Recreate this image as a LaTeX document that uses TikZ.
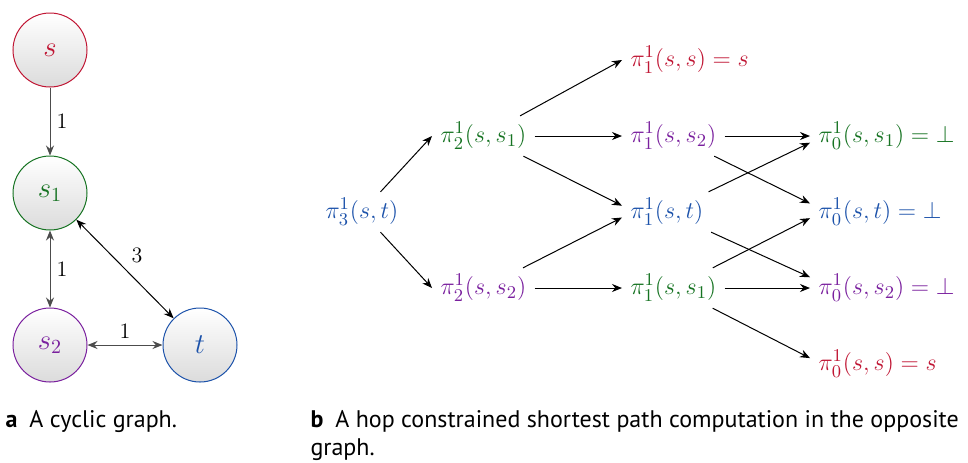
\documentclass[tikz,border=0pt]{standalone}
\usepackage{fontspec}
\setsansfont{PT Sans}
\usepackage{amsmath,amssymb}
\usetikzlibrary{arrows.meta,positioning}
\definecolor{cred}{RGB}{192,22,52}
\definecolor{cgreen}{RGB}{22,115,34}
\definecolor{cpurple}{RGB}{122,32,158}
\definecolor{cblue}{RGB}{28,82,170}
\tikzset{
  vert/.style={circle, minimum size=37pt, inner sep=0pt, line width=0.5pt, top color=white, bottom color=black!14, font=\fontsize{14}{17}\selectfont},
  wt/.style={font=\fontsize{11}{13}\selectfont, inner sep=3pt},
  hop/.style={anchor=west, inner xsep=4pt, inner ysep=3pt, font=\fontsize{13}{16}\selectfont},
  captext/.style={anchor=north west, inner sep=0pt, font=\sffamily\fontsize{12}{14}\selectfont, align=left},
}
\begin{document}
\begin{tikzpicture}[x=0.5pt, y=-0.5pt, >={Stealth[length=5pt,width=4pt]}, line width=0.5pt]
\useasboundingbox (0,0) rectangle (968,462);
% (a) the cyclic graph
\node[vert, draw=cred, text=cred] (s) at (50,50) {$s$};
\node[vert, draw=cgreen, text=cgreen] (s1) at (50,193) {$s_1$};
\node[vert, draw=cpurple, text=cpurple] (s2) at (50,345) {$s_2$};
\node[vert, draw=cblue, text=cblue] (t) at (200,345) {$t$};
\draw[->, black!70] (s) -- node[wt, right, text=black] {1} (s1);
\draw[<->, black!70] (s1) -- node[wt, right, text=black] {1} (s2);
\draw[<->] (s1) -- node[wt, above right] {3} (t);
\draw[<->, black!70] (s2) -- node[wt, above, text=black] {1} (t);

% (b) hop constrained computation
\node[hop, text=cblue] (p3) at (317,212) {$\pi^1_3(s,t)$};
\node[hop, text=cgreen] (p21) at (432,136) {$\pi^1_2(s,s_1)$};
\node[hop, text=cpurple] (p22) at (432,288) {$\pi^1_2(s,s_2)$};
\node[hop, text=cred] (p1s) at (622,60) {$\pi^1_1(s,s) = s$};
\node[hop, text=cpurple] (p1s2) at (622,136) {$\pi^1_1(s,s_2)$};
\node[hop, text=cblue] (p1t) at (622,212) {$\pi^1_1(s,t)$};
\node[hop, text=cgreen] (p1s1) at (622,288) {$\pi^1_1(s,s_1)$};
\node[hop, text=cgreen] (p0s1) at (810,136) {$\pi^1_0(s,s_1) = \bot$};
\node[hop, text=cblue] (p0t) at (810,212) {$\pi^1_0(s,t) = \bot$};
\node[hop, text=cpurple] (p0s2) at (810,288) {$\pi^1_0(s,s_2) = \bot$};
\node[hop, text=cred] (p0s) at (810,364) {$\pi^1_0(s,s) = s$};

\draw[->] (p3) -- (p21.west);
\draw[->] (p3) -- (p22.west);
\draw[->] (p21) -- (p1s.west);
\draw[->] (p21) -- (p1s2);
\draw[->] (p21) -- (p1t.172);
\draw[->] (p22) -- (p1t.187);
\draw[->] (p22) -- (p1s1);
\draw[->] (p1s2) -- (p0s1);
\draw[->] (p1s2) -- (p0t.173);
\draw[->] (p1t) -- (p0s1.185);
\draw[->] (p1t) -- (p0s2.172);
\draw[->] (p1s1) -- (p0t.185);
\draw[->] (p1s1) -- (p0s2);
\draw[->] (p1s1) -- (p0s.175);

% captions
\node[captext] (capa) at (5,410) {\textbf{a}\enspace A cyclic graph.};
\node[captext] (capb) at (310,410) {\textbf{b}\enspace A hop constrained shortest path computation in the opposite\\graph.};
\end{tikzpicture}
\end{document}
